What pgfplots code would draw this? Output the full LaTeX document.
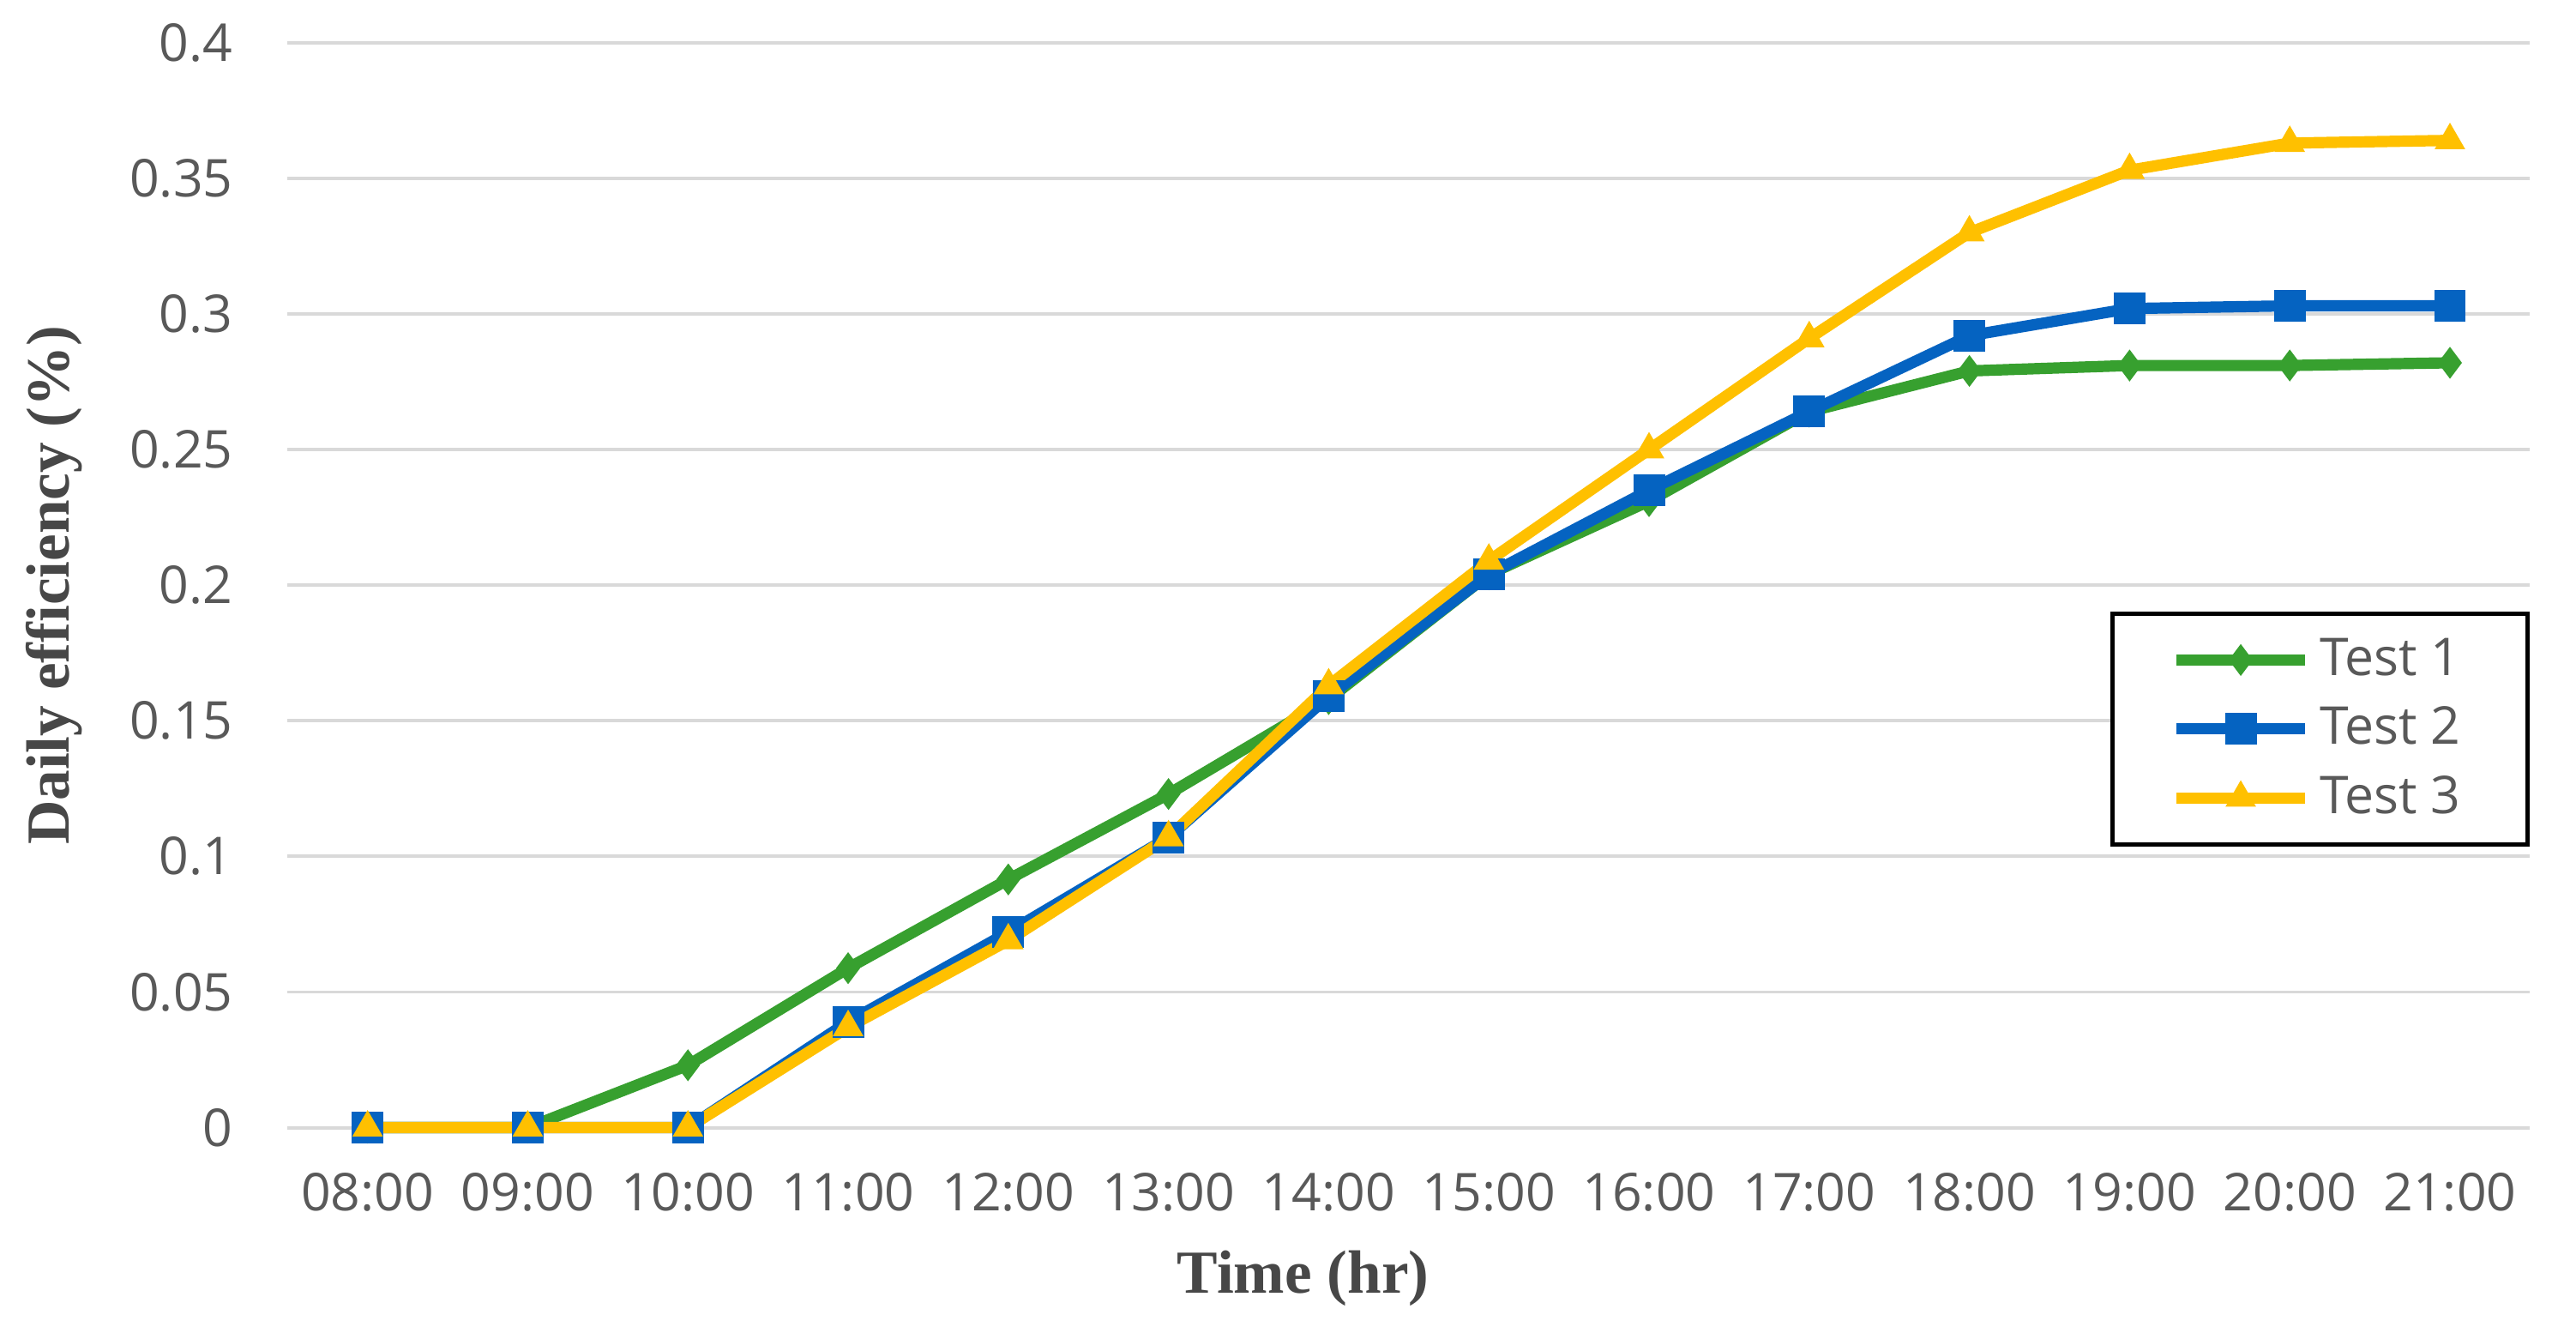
\documentclass[border=0pt]{standalone}
\usepackage{pgfplots}
\pgfplotsset{compat=1.18}
\usepackage{fontspec}
\setmainfont{Open Sans}
\newfontfamily\serifb{Liberation Serif}
\definecolor{cgreen}{HTML}{37A02F}
\definecolor{cblue}{HTML}{0563C1}
\definecolor{cyellow}{HTML}{FFC000}
\definecolor{cgrid}{HTML}{D9D9D9}
\definecolor{ctext}{HTML}{595959}
\begin{document}
\begin{tikzpicture}
\begin{axis}[
  scale only axis,
  width=17.41cm, height=8.42cm,
  xmin=-0.5, xmax=13.5,
  ymin=0, ymax=0.4,
  axis line style={draw=none},
  xtick={0,...,13},
  xticklabels={08:00,09:00,10:00,11:00,12:00,13:00,14:00,15:00,16:00,17:00,18:00,19:00,20:00,21:00},
  ytick={0,0.05,...,0.41},
  yticklabel style={/pgf/number format/fixed,/pgf/number format/precision=2},
  /pgf/number format/assume math mode=true,
  tick label style={font=\fontsize{11.5}{13}\selectfont, text=ctext},
  xticklabel style={anchor=center, yshift=-0.5cm},
  yticklabel style={anchor=east, xshift=-0.3cm},
  ymajorgrids,
  major grid style={cgrid, line width=0.75pt},
  major tick length=0pt,
  clip=false,
  legend cell align=left,
  legend style={at={(rel axis cs:1,0.476)}, anchor=north east, draw=black, line width=1pt,
    font=\fontsize{11.5}{13}\selectfont\color{ctext}, inner xsep=0.45cm, inner ysep=0.12cm,
    row sep=0.05cm},
  legend image code/.code={\draw[mark repeat=2,mark phase=2] plot coordinates {(0cm,0cm)(0.5cm,0cm)(1cm,0cm)};},
]
\addplot[cgreen, line width=2.5pt, mark=diamond*, mark size=3.2pt, mark options={solid, line width=0.4pt}] coordinates {
(0,0) (1,0) (2,0.023) (3,0.0588) (4,0.0915) (5,0.123) (6,0.158) (7,0.204) (8,0.231) (9,0.264) (10,0.279) (11,0.281) (12,0.281) (13,0.282)};
\addlegendentry{Test 1}
\addplot[cblue, line width=2.5pt, mark=square*, mark size=3.3pt, mark options={solid, line width=0.4pt}] coordinates {
(0,0) (1,0) (2,0) (3,0.039) (4,0.072) (5,0.107) (6,0.159) (7,0.204) (8,0.235) (9,0.264) (10,0.292) (11,0.302) (12,0.303) (13,0.303)};
\addlegendentry{Test 2}
\addplot[cyellow, line width=2.5pt, mark=triangle*, mark size=3.5pt, mark options={solid, line width=0.4pt}] coordinates {
(0,0) (1,0) (2,0) (3,0.037) (4,0.069) (5,0.107) (6,0.163) (7,0.209) (8,0.250) (9,0.291) (10,0.330) (11,0.353) (12,0.363) (13,0.364)};
\addlegendentry{Test 3}
\end{axis}
\node[font=\serifb\bfseries\fontsize{13.5}{15}\selectfont, text=ctext!80!black, rotate=90] at ([xshift=-1.81cm]current axis.west) {Daily efficiency (\%)};
\node[font=\serifb\bfseries\fontsize{13.5}{15}\selectfont, text=ctext!80!black] at ([xshift=-0.82cm,yshift=-1.17cm]current axis.south) {Time (hr)};
\path ([xshift=-2.232cm,yshift=-1.543cm]current axis.south west) ([xshift=0.357cm,yshift=0.332cm]current axis.north east);
\end{tikzpicture}
\end{document}
